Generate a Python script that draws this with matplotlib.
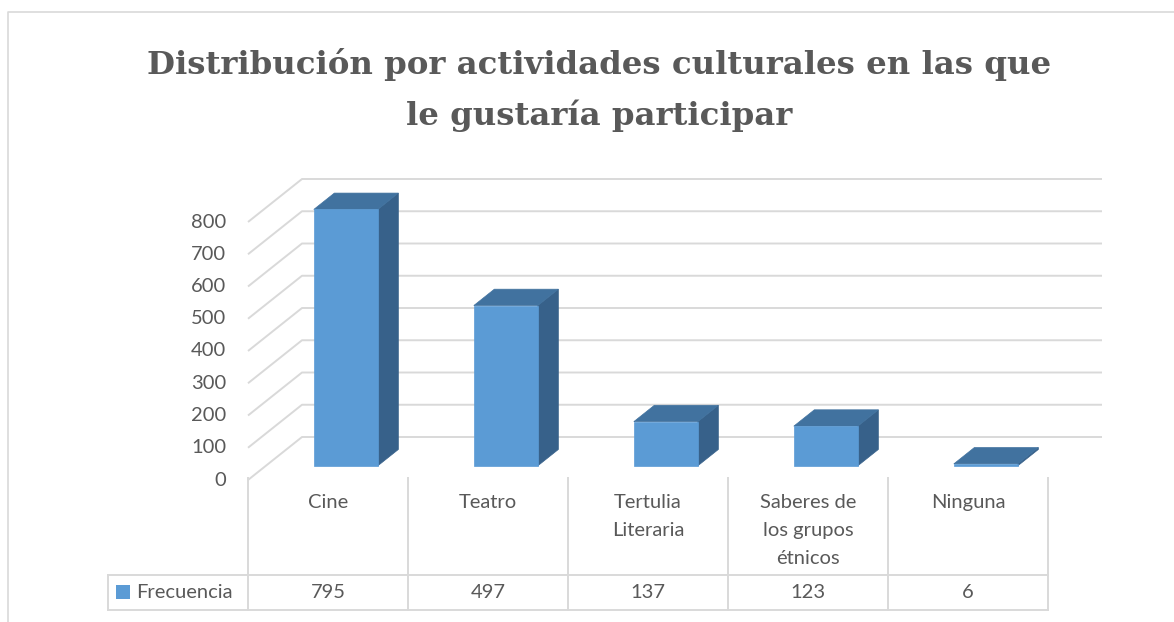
import matplotlib.pyplot as plt
from matplotlib.patches import Polygon, Rectangle
from matplotlib.lines import Line2D

categorias = ['Cine', 'Teatro', 'Tertulia\nLiteraria', 'Saberes de\nlos grupos\nétnicos', 'Ninguna']
frecuencia = [795, 497, 137, 123, 6]
serie = 'Frecuencia'
ticks = [0, 100, 200, 300, 400, 500, 600, 700, 800]
titulo = 'Distribución por actividades culturales en las que\nle gustaría participar'

W, H = 1174, 622
gris = '#595959'
linea = '#d9d9d9'

fig = plt.figure(figsize=(W / 100, H / 100), dpi=100)
ax = fig.add_axes([0, 0, 1, 1])
ax.axis('off')

# escala: pixeles por categoria y por unidad de valor
PX_CAT = 160
PX_VAL = 0.3225
X0 = 248   # borde izquierdo de la primera categoria
Y0 = 480   # linea del cero (plano frontal)
n = len(categorias)

ax.set_xlim(-0.5 - X0 / PX_CAT, -0.5 + (W - X0) / PX_CAT)
ax.set_ylim(-(H - Y0) / PX_VAL, Y0 / PX_VAL)

def cx(px):
    return px / PX_CAT

def cy(px):
    return px / PX_VAL

# profundidad del efecto 3D
DX = cx(54)
DY = cy(43)

# lineas de cuadricula (pared lateral y fondo)
for t in ticks:
    ax.plot([-0.5, -0.5 + DX, n - 0.5 + DX], [t, t + DY, t + DY],
            color=linea, lw=1.4, zorder=1, solid_capstyle='butt')
    ax.text(-0.5 - cx(22), t, str(t), ha='right', va='center',
            fontsize=14.5, color=gris, family='Lato')

# barras 3D
f0, f1 = 0.33, 0.71
ancho = 0.4
for i, v in enumerate(frecuencia):
    xl = i - ancho / 2 + f0 * DX
    xr = i + ancho / 2 + f0 * DX
    yb = f0 * DY
    ox = (f1 - f0) * DX
    oy = (f1 - f0) * DY
    frente = [(xl, yb), (xr, yb), (xr, yb + v), (xl, yb + v)]
    arriba = [(xl, yb + v), (xr, yb + v), (xr + ox, yb + v + oy), (xl + ox, yb + v + oy)]
    lado = [(xr, yb), (xr + ox, yb + oy), (xr + ox, yb + v + oy), (xr, yb + v)]
    ax.add_patch(Polygon(lado, closed=True, fc='#37618a', ec='#37618a', lw=0.5, zorder=3))
    ax.add_patch(Polygon(arriba, closed=True, fc='#41729f', ec='#41729f', lw=0.5, zorder=3))
    ax.add_patch(Polygon(frente, closed=True, fc='#5b9bd5', ec='#5b9bd5', lw=0.5, zorder=4))

# tabla de datos
fila1 = -cy(95)
fila2 = -cy(130)
izq = -0.5 - cx(140)
for k in range(n + 1):
    ax.plot([-0.5 + k, -0.5 + k], [cy(2), fila2], color=linea, lw=1.4, zorder=1)
ax.plot([izq, izq], [fila1, fila2], color=linea, lw=1.4, zorder=1)
ax.plot([izq, n - 0.5], [fila1, fila1], color=linea, lw=1.4, zorder=1)
ax.plot([izq, n - 0.5], [fila2, fila2], color=linea, lw=1.4, zorder=1)

for i, (c, v) in enumerate(zip(categorias, frecuencia)):
    ax.text(i, -cy(14), c, ha='center', va='top', fontsize=14.5, color=gris,
            family='Lato', linespacing=1.8)
    ax.text(i, -cy(112), str(v), ha='center', va='center', fontsize=14.5,
            color=gris, family='Lato')

ax.add_patch(Rectangle((izq + cx(8), -cy(119)), cx(14), cy(14), fc='#5b9bd5', ec='none'))
ax.text(izq + cx(28), -cy(112), serie, ha='left', va='center', fontsize=14.5,
        color=gris, family='Lato')

# titulo
fig.text(0.51, 1 - 90 / H, titulo, ha='center', va='center', fontsize=23.3,
         fontweight='bold', color=gris, family='DejaVu Serif', linespacing=1.72)

# borde del grafico
fig.add_artist(Line2D([8 / W, 8 / W, 1], [0, 1 - 12 / H, 1 - 12 / H],
                      transform=fig.transFigure, color=linea, lw=1.2))

fig.savefig('out.png', dpi=100)
